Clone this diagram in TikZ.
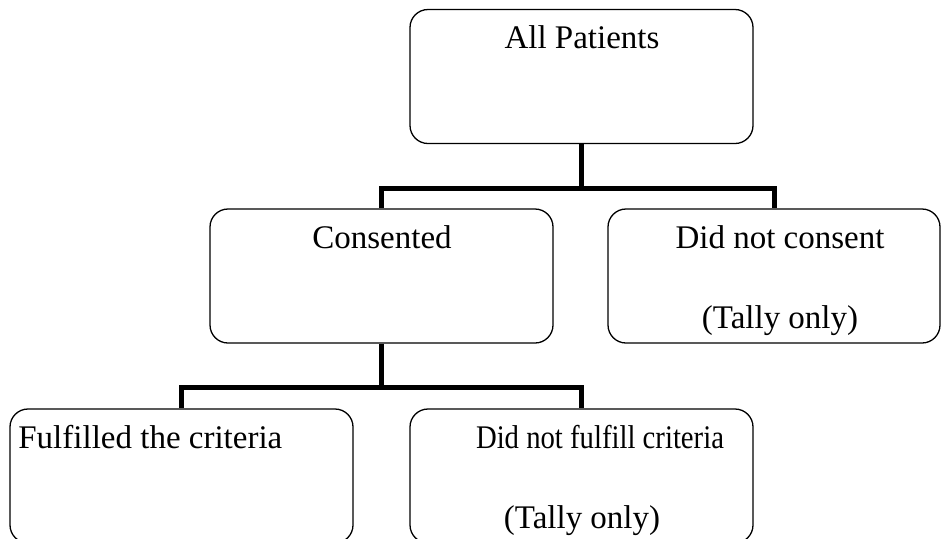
\documentclass[tikz,border=0pt]{standalone}
\usepackage{fontspec}
\setmainfont{Liberation Serif}

\begin{document}
\begin{tikzpicture}[x = 0.5pt, y = -0.5pt, box/.style = {draw, rounded corners = 9pt, line width = 0.65pt, minimum width = 171.5pt, minimum height = 67pt, inner sep = 0pt}, txt/.style = {inner sep = 0pt, font = \fontsize{16.5}{20}\selectfont}, link/.style = {line width = 2.5pt}]
					\useasboundingbox (0,0) rectangle (941,538);
					\node[box] (all) at (581.5,76.5) {};
					\node[box] (cons) at (381.5,276) {};
					\node[box, minimum width = 166pt] (nocons) at (774,276) {};
					\node[box] (fulfil) at (181.5,476) {};
					\node[box] (nofulfil) at (581.5,476) {};
					\node[txt, anchor = base] (alltxt) at (582,48) {All Patients};
					\node[txt, anchor = base] (constxt) at (382,248) {Consented};
					\node[txt, anchor = base] (noconstxt) at (780,248) {Did not consent};
					\node[txt, anchor = base] (noconstally) at (780,328) {(Tally only)};
					\node[txt, anchor = base west] (fulfiltxt) at (18,448) {Fulfilled the criteria};
					\node[txt, anchor = base] (nofulfiltxt) at (600,448) {\scalebox{0.87}[1]{Did not fulfill criteria}};
					\node[txt, anchor = base] (nofulfiltally) at (582,528) {(Tally only)};
					\coordinate (split1) at (581.5,188);
					\coordinate (split2) at (381.5,387);
					\draw[link] (all.south) -- (split1);
					\draw[link] (cons.north) |- (split1) -| (nocons.north);
					\draw[link] (cons.south) -- (split2);
					\draw[link] (fulfil.north) |- (split2) -| (nofulfil.north);
				\end{tikzpicture}
\end{document}
